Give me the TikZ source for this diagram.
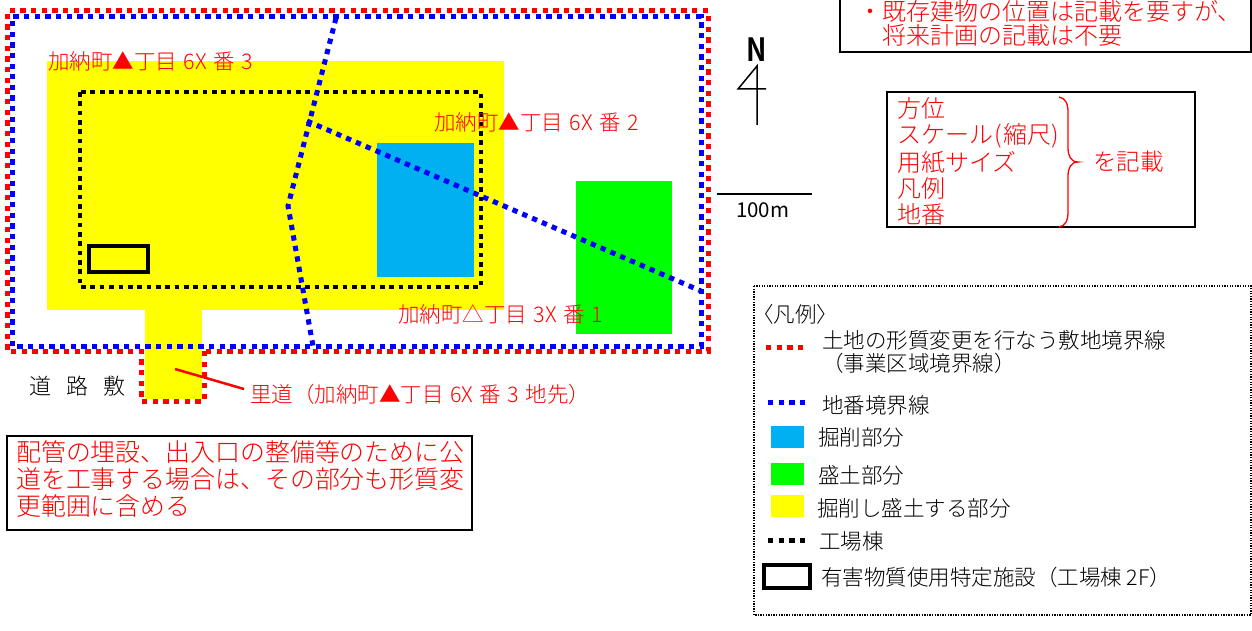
\documentclass[tikz,border=0pt]{standalone}
\usepackage{fontspec}
\setmainfont{Noto Sans CJK JP Light}
\newfontfamily\jpreg{Noto Sans CJK JP}
\newcommand\spc{\hspace{.3em}}
\definecolor{cyanfill}{HTML}{00B0F0}
\definecolor{greenfill}{HTML}{00FF00}
\definecolor{yellowfill}{HTML}{FFFF00}
\definecolor{redtxt}{HTML}{FF0000}
\tikzset{
  jt/.style={anchor=west,inner sep=0pt,font=\fontsize{#1pt}{#1pt}\selectfont,
    execute at begin node={\rule[-.12em]{0pt}{1em}}},
  jt/.default=21.5,
  redt/.style={jt=#1,text=redtxt},
  redt/.default=21.5,
  redbound/.style={draw=red,line width=5pt,dash pattern=on 5.33pt off 5.33pt},
  blueline/.style={draw=blue,line width=5pt,dash pattern=on 5.33pt off 5.33pt},
  factory/.style={draw=black,line width=4.2pt,dash pattern=on 4.67pt off 4.67pt},
  facility/.style={draw=black,line width=3.5pt},
  framebox/.style={draw=black,line width=2pt},
}
\begin{document}
\begin{tikzpicture}[x=1pt,y=-1pt]
\useasboundingbox (0,0) rectangle (1252,631);
% filled areas
\fill[yellowfill] (47,61) rectangle (504,310);
\draw[redbound] (204,351) -- (204,401) -- (141,401) -- (141,351) -- (7,351) -- (7,11) -- (708,11) -- (708,351) -- (204,351);
\fill[yellowfill] (145,300) rectangle (202,399);
\fill[cyanfill] (377,143) rectangle (474,277);
\fill[greenfill] (576,181) rectangle (672,334);
% factory
\draw[factory] (80,92) rectangle (481,287);
\draw[facility] (89,246) rectangle (148,272);
% lot lines
\draw[blueline] (12,346) -- (12,17) -- (701,17) -- (701,346) -- (12,346);
\coordinate (la) at (336,18);
\coordinate (lb) at (288,206);
\coordinate (lc) at (313,346);
\coordinate (ld) at (307,121);
\coordinate (le) at (701,291);
\draw[blueline] (la) -- (lb) -- (lc);
\draw[blueline] (ld) -- (le);
% labels
\node[redt] (l3) at (48,61) {加納町▲丁目\spc 6X\spc 番\spc 3};
\node[redt] (l2) at (434,122) {加納町▲丁目\spc 6X\spc 番\spc 2};
\node[redt] (l1) at (398,314) {加納町△丁目\spc 3X\spc 番\spc 1};
\node[jt=22] (road) at (29,386) {道\hspace{15pt}路\hspace{15pt}敷};
\node[redt] (sato) at (250,394) {里道（加納町▲丁目\spc 6X\spc 番\spc 3\spc 地先）};
\coordinate (sa) at (175,369);
\coordinate (sb) at (244,389);
\draw[red,line width=2.5pt] (sa) -- (sb);
% note bottom-left
\node[framebox,minimum width=465pt,minimum height=94pt,inner sep=0pt] (noteb) at (239.5,483) {};
\node[redt=24.9] (n1) at (16,452) {配管の埋設、出入口の整備等のために公};
\node[redt=24.9] (n2) at (16,479) {道を工事する場合は、その部分も形質変};
\node[redt=24.9] (n3) at (16,506) {更範囲に含める};
% note top right
\draw[framebox] (840,-5) -- (840,52) -- (1251,52) -- (1251,-5);
\node[redt=24] (t0) at (858,11) {・既存建物の位置は記載を要すが、};
\node[redt=24] (t1) at (882,35) {将来計画の記載は不要};
% north
\node[inner sep=0pt,font=\fontsize{32pt}{32pt}\selectfont\bfseries,xscale=.85] (north) at (757,50) {N};
\coordinate (na) at (757,66);
\coordinate (nb) at (757,125);
\coordinate (nc) at (738,89);
\coordinate (nd) at (766,89);
\draw[black,line width=1.5pt] (nb) -- (na) -- (nc) -- (nd);
% scale
\coordinate (sc1) at (717,194);
\coordinate (sc2) at (812,194);
\draw[black,line width=2.5pt] (sc1) -- (sc2);
\node[jt=20.5,font=\fontsize{20.5pt}{20.5pt}\selectfont\jpreg] (hund) at (736,210) {100m};
% box
\node[framebox,minimum width=308pt,minimum height=135pt,inner sep=0pt] (items) at (1041,159.5) {};
\node[redt=24] (i1) at (897,108) {方位};
\node[redt=24] (i2) at (897,135) {スケール\hspace{1.5pt}(\hspace{1pt}縮尺)};
\node[redt=24] (i3) at (897,162) {用紙サイズ};
\node[redt=24] (i4) at (897,188) {凡例};
\node[redt=24] (i5) at (897,214) {地番};
\draw[red,line width=1.3pt] (1059,97) .. controls (1065,98) and (1068,103) .. (1068,112)
  -- (1068,148) .. controls (1068,156) and (1071,162) .. (1078,162)
  .. controls (1071,162) and (1068,168) .. (1068,176)
  -- (1068,212) .. controls (1068,221) and (1065,226) .. (1059,227);
\node[redt=23.5] (ki) at (1093,162) {を記載};
% legend
\draw[black,line width=1.2pt,dash pattern=on 1.3pt off 1.3pt] (754,286) rectangle (1251,615);
\node[jt] (lg0) at (752,314) {〈凡例〉};
\coordinate (r1) at (766,347); \coordinate (r2) at (805,347);
\draw[redbound] (r1) -- (r2);
\node[jt] (lg1) at (822,340) {土地の形質変更を行なう敷地境界線};
\node[jt] (lg1b) at (822,363) {（事業区域境界線）};
\coordinate (b1) at (768,402); \coordinate (b2) at (807,402);
\draw[blueline] (b1) -- (b2);
\node[jt] (lg2) at (822,405) {地番境界線};
\fill[cyanfill] (771,426) rectangle (804,448);
\node[jt] (lg3) at (818,437) {掘削部分};
\fill[greenfill] (771,463) rectangle (804,485);
\node[jt] (lg4) at (818,475) {盛土部分};
\fill[yellowfill] (771,495) rectangle (804,517);
\node[jt] (lg5) at (817,508) {掘削し盛土する部分};
\coordinate (k1) at (768,540); \coordinate (k2) at (807,540);
\draw[black,line width=5pt,dash pattern=on 5.33pt off 5.33pt] (k1) -- (k2);
\node[jt] (lg6) at (819,541) {工場棟};
\draw[black,line width=4pt] (764,565) rectangle (810,588);
\node[jt] (lg7) at (821,577) {有害物質使用特定施設（工場棟 2F）};
\end{tikzpicture}
\end{document}
